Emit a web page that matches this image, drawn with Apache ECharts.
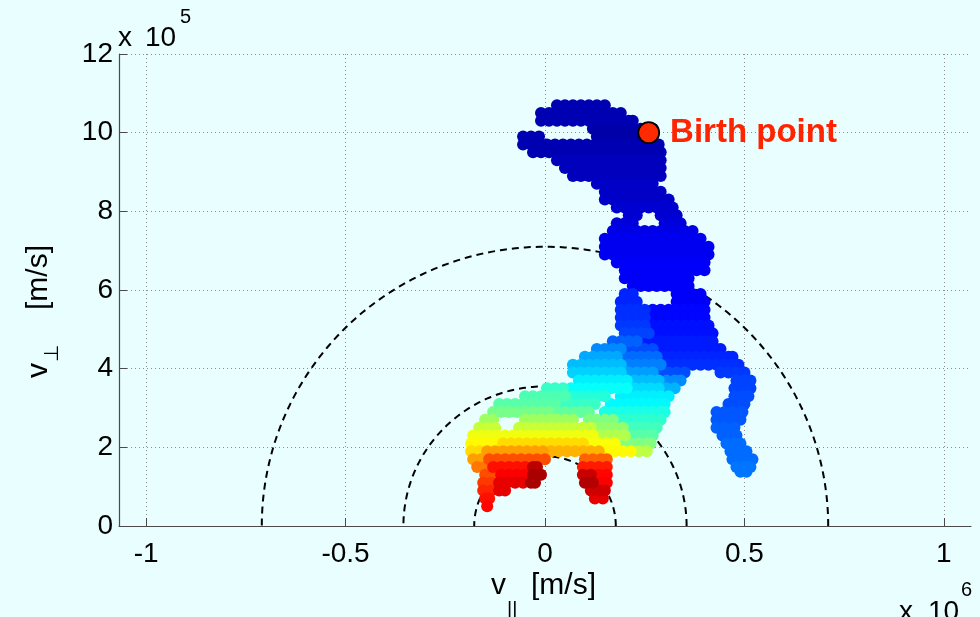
<!DOCTYPE html>
<html><head><meta charset="utf-8">
<script src="https://cdn.jsdelivr.net/npm/echarts@6/dist/echarts.min.js"></script>
<style>html,body{margin:0;padding:0;background:#e9fefe;}#c{width:980px;height:617px;}</style>
</head><body><div id="c"></div>
<script>
// units: v_parallel in 10^6 m/s, v_perp in 10^5 m/s, t = normalised time (colour)
const xTicks = [-1, -0.5, 0, 0.5, 1];
const yTicks = [0, 2, 4, 6, 8, 10, 12];
const circleRadii = [0.71, 0.355, 0.1775]; // 10^6 m/s
const birthPoint = [0.26, 10.0];
// runs: [v_perp, t, [v_parallel ...]]
const topBlob = [
[10.7,0.05,[0.03,0.05,0.07,0.09,0.11,0.13,0.15]],
[10.5,0.05,[-0.01,0.01,0.03,0.05,0.07,0.09,0.11,0.13,0.15,0.17,0.19]],
[10.3,0.05,[-0.01,0.01,0.03,0.05,0.07,0.09,0.11,0.13,0.15,0.17,0.19,0.21,0.22]],
[10.1,0.04,[0.12,0.14,0.16,0.18,0.20,0.22,0.24,0.26,0.27]],
[9.9,0.05,[-0.055,-0.035,-0.015]],
[9.9,0.04,[0.13,0.15,0.17,0.19,0.21,0.23,0.25,0.27]],
[9.7,0.05,[-0.055,-0.035,-0.015,0.005,0.025,0.045,0.065,0.085,0.105,0.125,0.145,0.165,0.185,0.205,0.225,0.245,0.265,0.285]],
[9.5,0.05,[-0.03,-0.01,0.01,0.03,0.05,0.07,0.09,0.11,0.13,0.15,0.17,0.19,0.21,0.23,0.25,0.27,0.29]],
[9.3,0.06,[0.03,0.05,0.07,0.09,0.11,0.13,0.15,0.17,0.19,0.21,0.23,0.25,0.27,0.29]],
[9.1,0.06,[0.05,0.07,0.09,0.11,0.13,0.15,0.17,0.19,0.21,0.23,0.25,0.27,0.29]],
[8.9,0.06,[0.07,0.09,0.11,0.13,0.15,0.17,0.19,0.21,0.23,0.25,0.27,0.29]],
[8.7,0.07,[0.13,0.15,0.17,0.19,0.21,0.23,0.25,0.27]],
[8.5,0.07,[0.15,0.17,0.19,0.21,0.23,0.25,0.27,0.29]],
[8.3,0.07,[0.15,0.17,0.19,0.21,0.23,0.25,0.27,0.29,0.31]],
[8.1,0.08,[0.18,0.20,0.22,0.24,0.26,0.28,0.30,0.32]],
[7.9,0.08,[0.21,0.23,0.29,0.31,0.33]],
[7.7,0.09,[0.18,0.20,0.22,0.30,0.32,0.34]]
];
const midBlob = [
[7.5,0.10,[0.17,0.19,0.21,0.23,0.25,0.27,0.29,0.31,0.33,0.35,0.37]],
[7.3,0.11,[0.15,0.17,0.19,0.21,0.23,0.25,0.27,0.29,0.31,0.33,0.35,0.37,0.39]],
[7.1,0.11,[0.15,0.17,0.19,0.21,0.23,0.25,0.27,0.29,0.31,0.33,0.35,0.37,0.39,0.41]],
[6.9,0.11,[0.15,0.17,0.19,0.21,0.23,0.25,0.27,0.29,0.31,0.33,0.35,0.37,0.39,0.41]],
[6.7,0.12,[0.18,0.20,0.22,0.24,0.26,0.28,0.30,0.32,0.34,0.36,0.38,0.40]],
[6.5,0.12,[0.20,0.22,0.24,0.26,0.28,0.30,0.32,0.34,0.36,0.38,0.40]],
[6.3,0.12,[0.20,0.22,0.24,0.26,0.28,0.30,0.32,0.34,0.36]],
[6.1,0.12,[0.22,0.24,0.26,0.28,0.30,0.32,0.34,0.36]],
[5.9,0.16,[0.20,0.22]],
[5.9,0.12,[0.33,0.35,0.37,0.39]],
[5.7,0.16,[0.19,0.21,0.23]],
[5.7,0.12,[0.33,0.35,0.37,0.39,0.40]],
[5.5,0.17,[0.19,0.21,0.23,0.25]],
[5.5,0.13,[0.27,0.29,0.31,0.33,0.35,0.37,0.39,0.40]],
[5.3,0.17,[0.19,0.21,0.23,0.25]],
[5.3,0.13,[0.27,0.29,0.31,0.33,0.35,0.37,0.39,0.40]],
[5.1,0.18,[0.19,0.21,0.23,0.25]],
[5.1,0.14,[0.27,0.29,0.31,0.33,0.35,0.37,0.39,0.41]],
[4.9,0.19,[0.20,0.22,0.24,0.26]],
[4.9,0.14,[0.28,0.30,0.32,0.34,0.36,0.38,0.40,0.42]]
];
const lowerBody = [
[4.7,0.22,[0.17,0.19,0.21,0.23]],
[4.7,0.15,[0.25,0.27,0.29,0.31,0.33,0.35,0.37,0.39,0.41,0.42]],
[4.5,0.26,[0.13,0.15,0.17,0.19]],
[4.5,0.20,[0.21,0.23,0.25,0.27]],
[4.5,0.15,[0.29,0.31,0.33,0.35,0.37,0.39,0.41,0.43,0.44]],
[4.3,0.29,[0.10,0.12,0.14,0.16,0.18]],
[4.3,0.23,[0.20,0.22,0.24,0.26,0.28]],
[4.3,0.16,[0.30,0.32,0.34,0.36,0.38,0.40,0.42,0.44,0.46,0.47]],
[4.1,0.31,[0.07,0.09,0.11,0.13,0.15,0.17,0.19]],
[4.1,0.25,[0.21,0.23,0.25,0.27,0.29]],
[4.1,0.17,[0.31,0.33,0.35,0.37,0.39,0.41,0.43,0.45,0.47,0.485]],
[3.9,0.33,[0.07,0.09,0.11,0.13,0.15,0.17,0.19]],
[3.9,0.28,[0.21,0.23,0.25,0.27]],
[3.9,0.20,[0.29,0.31,0.33,0.35]],
[3.7,0.36,[0.085,0.105,0.125,0.145,0.165,0.185,0.205]],
[3.7,0.31,[0.225,0.245,0.265,0.285]],
[3.7,0.26,[0.305,0.325,0.34]],
[3.5,0.43,[0.005,0.025,0.045]],
[3.5,0.38,[0.065,0.085,0.105,0.125,0.145,0.165,0.185,0.205]],
[3.5,0.34,[0.225,0.245,0.265,0.285]],
[3.5,0.30,[0.305,0.325]],
[3.3,0.45,[-0.05,-0.03,-0.01,0.01,0.03,0.05]],
[3.3,0.41,[0.07,0.09,0.11,0.13,0.15]],
[3.3,0.36,[0.19,0.21,0.23,0.25,0.27,0.29,0.31]],
[3.1,0.46,[-0.115,-0.095,-0.075,-0.055,-0.035,-0.015,0.005,0.025]],
[3.1,0.43,[0.045,0.065,0.085,0.105,0.125]],
[3.1,0.37,[0.165,0.185,0.205,0.225,0.245,0.265,0.285,0.30]],
[2.9,0.49,[-0.13,-0.11,-0.09,-0.07,-0.05,-0.03,-0.01,0.01]],
[2.9,0.47,[0.03,0.05,0.07,0.09,0.11]],
[2.9,0.40,[0.15,0.17,0.19,0.21,0.23,0.25,0.27,0.29,0.30]],
[2.7,0.53,[-0.15,-0.13]],
[2.7,0.53,[-0.05,-0.03,-0.01,0.01,0.03,0.05,0.07]],
[2.7,0.50,[0.11,0.13,0.15,0.17]],
[2.7,0.42,[0.19,0.21,0.23,0.25,0.27,0.29]],
[2.5,0.57,[-0.165,-0.145,-0.125]],
[2.5,0.57,[-0.065,-0.045,-0.025,-0.005,0.015,0.035,0.055,0.075,0.095,0.115]],
[2.5,0.52,[0.135,0.155,0.175,0.195]],
[2.5,0.44,[0.215,0.235,0.255,0.28]],
[2.3,0.61,[-0.18,-0.16,-0.14,-0.12,-0.10,-0.08,-0.06,-0.04,-0.02,0.0,0.02,0.04,0.06,0.08,0.10,0.12]],
[2.3,0.55,[0.14,0.16,0.18,0.20]],
[2.3,0.46,[0.22,0.24,0.26,0.27]],
[2.1,0.63,[-0.185,-0.165,-0.145,-0.125]],
[2.1,0.66,[-0.105,-0.085,-0.065,-0.045,-0.025,-0.005,0.015,0.035,0.055,0.075,0.095]],
[2.1,0.62,[0.115,0.135,0.155,0.175]],
[2.1,0.50,[0.195,0.215,0.235,0.255,0.265]],
[1.9,0.66,[-0.185,-0.165]],
[1.9,0.72,[-0.145,-0.125,-0.105,-0.085,-0.065,-0.045,-0.025,-0.005]],
[1.9,0.70,[0.015,0.035,0.055,0.075,0.095,0.115,0.135]],
[1.9,0.63,[0.155,0.175,0.195,0.215]],
[1.9,0.56,[0.235,0.255]],
[1.7,0.72,[-0.18,-0.16]],
[1.7,0.80,[-0.14,-0.12,-0.10,-0.08,-0.06,-0.04,-0.02,0.0]],
[1.7,0.78,[0.10,0.12,0.14,0.155]],
[1.5,0.76,[-0.17,-0.15]],
[1.5,0.86,[-0.13,-0.11,-0.09,-0.07,-0.05]],
[1.5,0.94,[-0.03,-0.02]],
[1.5,0.85,[0.095,0.115,0.135,0.155]],
[1.3,0.80,[-0.15,-0.13]],
[1.3,0.88,[-0.11,-0.09,-0.07,-0.05]],
[1.3,0.96,[-0.03,-0.01]],
[1.3,0.93,[0.095,0.115]],
[1.3,0.87,[0.135,0.155]],
[1.1,0.82,[-0.155,-0.135]],
[1.1,0.90,[-0.115,-0.095,-0.075,-0.055]],
[1.1,0.96,[-0.035,-0.025]],
[1.1,0.95,[0.10,0.12]],
[1.1,0.88,[0.14,0.155]],
[0.9,0.84,[-0.155,-0.135]],
[0.9,0.90,[-0.115,-0.10]],
[0.9,0.92,[0.115,0.135,0.15]],
[0.7,0.86,[-0.15,-0.14]],
[0.7,0.90,[0.125,0.145]],
[0.5,0.87,[-0.145]]
];
const tail = [
[3.9,0.18,[0.44,0.46,0.48,0.50]],
[3.7,0.19,[0.48,0.50,0.515]],
[3.5,0.19,[0.475,0.495,0.515]],
[3.3,0.20,[0.475,0.495,0.51]],
[3.1,0.20,[0.46,0.48,0.50]],
[2.9,0.21,[0.43,0.45,0.47,0.495]],
[2.7,0.21,[0.43,0.45,0.47,0.49]],
[2.5,0.22,[0.43,0.45,0.475]],
[2.3,0.22,[0.445,0.465,0.48]],
[2.1,0.23,[0.455,0.475,0.49]],
[1.9,0.23,[0.465,0.485,0.505]],
[1.7,0.23,[0.47,0.49,0.51,0.52]],
[1.5,0.24,[0.48,0.50,0.515]],
[1.38,0.24,[0.49,0.505]]
];
const jet = ['#000080','#0000ff','#0080ff','#00ffff','#80ff80','#ffff00','#ff8000','#ff0000','#800000'];

function expand(runs){const out=[];runs.forEach(r=>r[2].forEach(x=>out.push([x,r[0],r[1]])));return out;}
const traj=[].concat(expand(topBlob),expand(midBlob),expand(lowerBody),expand(tail)).sort((a,b)=>a[2]-b[2]);

const FONT='Liberation Sans';
const circleSeries=circleRadii.map(r=>{const d=[];for(let a=0;a<=180;a+=1){const th=a*Math.PI/180;d.push([r*Math.cos(th),r*Math.sin(th)*10]);}
 return {type:'line',data:d,showSymbol:false,symbol:'none',silent:true,z:2,lineStyle:{color:'#000',width:2,type:[7,5]}};});

const chart=echarts.init(document.getElementById('c'),null,{renderer:'canvas'});
chart.setOption({
 backgroundColor:'#e9fefe',
 animation:false,
 grid:{left:119,right:9,top:54,bottom:91,containLabel:false},
 xAxis:{type:'value',min:-1.068,max:1.068,
  axisLine:{show:true,onZero:false,lineStyle:{color:'#4a4a4a',width:1.2}},
  axisTick:{show:true,inside:true,length:8,customValues:xTicks,lineStyle:{color:'#4a4a4a'}},
  axisLabel:{customValues:xTicks,fontSize:28,color:'#000',fontFamily:FONT,margin:14,formatter:v=>String(v)},
  splitLine:{show:true,lineStyle:{color:'#8c8c8c',type:[1,3],width:1}}},
 yAxis:{type:'value',min:0,max:12,interval:2,
  axisLine:{show:true,onZero:false,lineStyle:{color:'#4a4a4a',width:1.2}},
  axisTick:{show:true,inside:true,length:8,lineStyle:{color:'#4a4a4a'}},
  axisLabel:{fontSize:28,color:'#000',fontFamily:FONT,margin:6,padding:[7,0,0,0]},
  splitLine:{show:true,lineStyle:{color:'#8c8c8c',type:[1,3],width:1}}},
 visualMap:{show:false,type:'continuous',dimension:2,min:0,max:1,seriesIndex:3,inRange:{color:jet}},
 series:[].concat(circleSeries,[
  {type:'scatter',data:traj,symbol:'circle',symbolSize:12,z:3,silent:true,itemStyle:{opacity:1}},
  {type:'scatter',data:[birthPoint],symbol:'circle',symbolSize:21,z:5,silent:true,
   itemStyle:{color:'#ff2a00',opacity:1,borderColor:'#000',borderWidth:1.8},
   label:{show:true,position:'right',distance:10,formatter:'Birth point',color:'#ff2400',fontSize:33,fontWeight:'bold',fontFamily:FONT,textBorderWidth:0}}
 ]),
 graphic:[
  {type:'text',left:118,top:24,style:{text:'x',fontSize:28,fontFamily:FONT,fill:'#000'}},
  {type:'text',left:145,top:24,style:{text:'10',fontSize:28,fontFamily:FONT,fill:'#000'}},
  {type:'text',left:180,top:7,style:{text:'5',fontSize:20,fontFamily:FONT,fill:'#000'}},
  {type:'text',left:899,top:598,style:{text:'x',fontSize:28,fontFamily:FONT,fill:'#000'}},
  {type:'text',left:928,top:598,style:{text:'10',fontSize:28,fontFamily:FONT,fill:'#000'}},
  {type:'text',left:961,top:580,style:{text:'6',fontSize:20,fontFamily:FONT,fill:'#000'}},
  {type:'text',left:491,top:571,style:{text:'v',fontSize:30,fontFamily:FONT,fill:'#000'}},
  {type:'text',left:507,top:600,style:{text:'||',fontSize:20,fontFamily:FONT,fill:'#000'}},
  {type:'text',left:531,top:571,style:{text:'[m/s]',fontSize:30,fontFamily:FONT,fill:'#000'}},
  {type:'group',x:24,y:378,rotation:Math.PI/2,children:[
   {type:'text',x:0,y:0,style:{text:'v',fontSize:30,fontFamily:FONT,fill:'#000'}},
   {type:'text',x:16,y:18,style:{text:'\u22a5',fontSize:20,fontFamily:FONT,fill:'#000'}},
   {type:'text',x:68,y:0,style:{text:'[m/s]',fontSize:30,fontFamily:FONT,fill:'#000'}}
  ]}
 ]
});
</script></body></html>
